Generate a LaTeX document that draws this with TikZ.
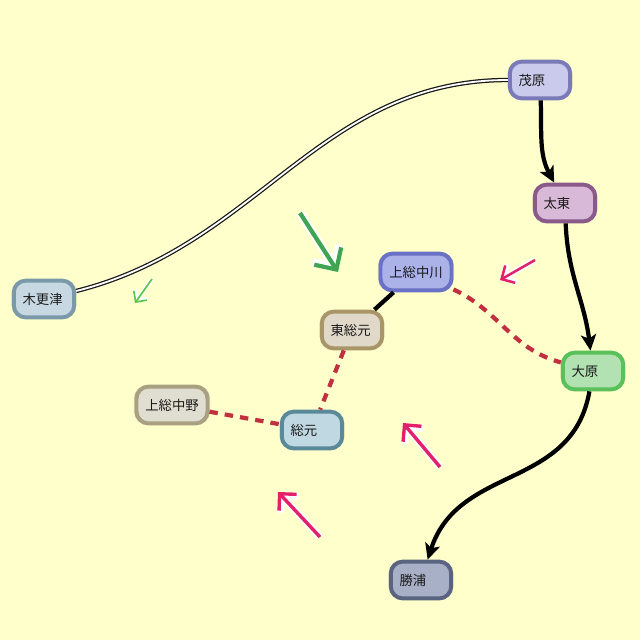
\documentclass[tikz,border=0pt]{standalone}
\usepackage{fontspec}
\newfontfamily\jpfont{Noto Sans CJK JP}
\usetikzlibrary{arrows.meta,shadows}
\definecolor{paper}{HTML}{FFFFCC}
\definecolor{dashred}{HTML}{C0303E}
\definecolor{arrowgreen}{HTML}{3FA552}
\definecolor{lightgreen}{HTML}{5CC84A}
\definecolor{arrowpink}{HTML}{E4206A}
\newlength\stnw
\newcommand\stnname[1]{\settowidth\stnw{#1}\ifdim\stnw<1.07cm\stnw=1.07cm\fi\makebox[\stnw][l]{#1}}
\tikzset{
  stn/.style={rounded corners=0.3cm, line width=2.8pt, minimum height=0.92cm, inner xsep=0.22cm,
    font=\jpfont\fontsize{9.5}{11}\selectfont, text=black!90,
    drop shadow={opacity=0.3, shadow xshift=0pt, shadow yshift=0pt, shadow scale=1.07}},
  trunk/.style={line width=3pt, -{Stealth[length=0.4cm,width=0.38cm,inset=0.1cm]}},
  link/.style={line width=3pt},
  planned/.style={line width=3pt, draw=dashred, dash pattern=on 6pt off 5pt},
  jr/.style={draw=black!90, line width=0.9pt, double=white, double distance=1.3pt},
}
\begin{document}
\begin{tikzpicture}[x=0.025cm,y=-0.025cm]
\fill[paper] (0,0) rectangle (640,640);
\useasboundingbox (0,0) rectangle (640,640);

\node[stn, draw={rgb,255:red,122;green,122;blue,184}, fill={rgb,255:red,202;green,202;blue,236}] (mobara) at (540,80) {\stnname{茂原}};
\node[stn, draw={rgb,255:red,138;green,90;blue,138}, fill={rgb,255:red,216;green,186;blue,216}] (taito) at (565,203) {\stnname{太東}};
\node[stn, draw={rgb,255:red,122;green,154;blue,170}, fill={rgb,255:red,200;green,216;blue,226}] (kisarazu) at (44,299) {\stnname{木更津}};
\node[stn, draw={rgb,255:red,106;green,114;blue,200}, fill={rgb,255:red,170;green,178;blue,232}] (nakagawa) at (416,272) {\stnname{上総中川}};
\node[stn, draw={rgb,255:red,168;green,150;blue,104}, fill={rgb,255:red,224;green,216;blue,200}] (higashifusamoto) at (352,330) {\stnname{東総元}};
\node[stn, draw={rgb,255:red,168;green,160;blue,128}, fill={rgb,255:red,224;green,222;blue,208}] (nakano) at (172,405) {\stnname{上総中野}};
\node[stn, draw={rgb,255:red,90;green,138;blue,154}, fill={rgb,255:red,192;green,216;blue,226}] (fusamoto) at (312,430) {\stnname{総元}};
\node[stn, draw={rgb,255:red,90;green,192;blue,90}, fill={rgb,255:red,178;green,226;blue,178}] (ohara) at (593,371) {\stnname{大原}};
\node[stn, draw={rgb,255:red,90;green,100;blue,128}, fill={rgb,255:red,168;green,176;blue,200}] (katsuura) at (421,580) {\stnname{勝浦}};

\draw[trunk] (mobara) to[out=-88,in=118] (taito);
\draw[trunk] (taito) to[out=-88,in=97] (ohara);
\draw[trunk] (ohara) to[out=-100,in=72,looseness=1.1] (katsuura);
\draw[jr] (mobara) to[out=180,in=14] (kisarazu);
\draw[link] (nakagawa) -- (higashifusamoto);
\draw[planned] (nakagawa) to[out=-25,in=165] (ohara);
\draw[planned] (higashifusamoto) -- (fusamoto);
\draw[planned] (nakano) -- (fusamoto);

\draw[white, line width=6pt, -{Straight Barb[length=0.4cm,width=0.8cm]}] (300,213) -- (338,272);
\draw[arrowgreen, line width=3pt, -{Straight Barb[length=0.4cm,width=0.8cm]}] (300,213) -- (338,272);
\draw[white, line width=3pt, -{Straight Barb[length=0.2cm,width=0.4cm]}] (152,279) -- (135,303);
\draw[lightgreen, line width=1.2pt, -{Straight Barb[length=0.2cm,width=0.4cm]}] (152,279) -- (135,303);
\draw[white, line width=4pt, -{Straight Barb[length=0.25cm,width=0.5cm]}] (535,260) -- (500,280);
\draw[arrowpink, line width=1.8pt, -{Straight Barb[length=0.25cm,width=0.5cm]}] (535,260) -- (500,280);
\draw[white, line width=5pt, -{Straight Barb[length=0.3cm,width=0.6cm]}] (440,467) -- (403,423);
\draw[arrowpink, line width=2.4pt, -{Straight Barb[length=0.3cm,width=0.6cm]}] (440,467) -- (403,423);
\draw[white, line width=5pt, -{Straight Barb[length=0.3cm,width=0.6cm]}] (320,537) -- (278,492);
\draw[arrowpink, line width=2.4pt, -{Straight Barb[length=0.3cm,width=0.6cm]}] (320,537) -- (278,492);
\end{tikzpicture}
\end{document}
